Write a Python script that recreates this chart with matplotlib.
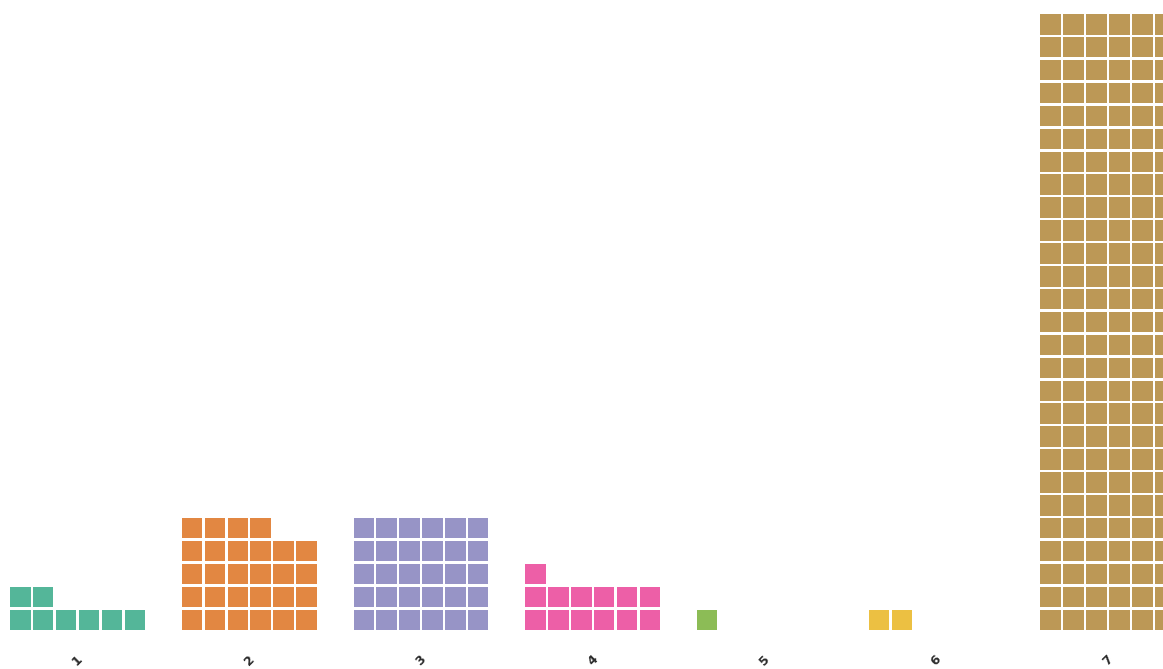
import matplotlib
matplotlib.use('Agg')
import matplotlib.pyplot as plt
from matplotlib.patches import Rectangle

# one waffle stack per category, filled bottom row first, left to right
categories = ['1', '2', '3', '4', '5', '6', '7']
counts = [8, 28, 30, 13, 1, 2, 162]
colors = ['#1b9e77', '#d95f02', '#7570b3', '#e7298a', '#66a61e', '#e6ab02', '#a6761d']

ncols = 6          # squares per row in each stack
group_step = 7.5   # distance between stack origins, in square units
size = 0.895       # square side (1.0 = pitch)

fig = plt.figure(figsize=(11.63, 6.69), dpi=100)
ax = fig.add_axes([0, 0, 1, 1])

for g, (cat, n, col) in enumerate(zip(categories, counts, colors)):
    x0 = g * group_step
    for k in range(n):
        row, c = divmod(k, ncols)
        ax.add_patch(Rectangle((x0 + c, row), size, size,
                               facecolor=col, alpha=0.75, edgecolor='none'))
    ax.text(x0 + (ncols - 1 + size) / 2, -1.31, cat, rotation=45,
            ha='center', va='center', fontsize=9, fontweight='bold',
            color='#2b2b2b')

ax.set_xlim(-0.437, 50.35)
ax.set_ylim(-1.70, 27.51)
ax.axis('off')

fig.savefig('out.png', dpi=100)
